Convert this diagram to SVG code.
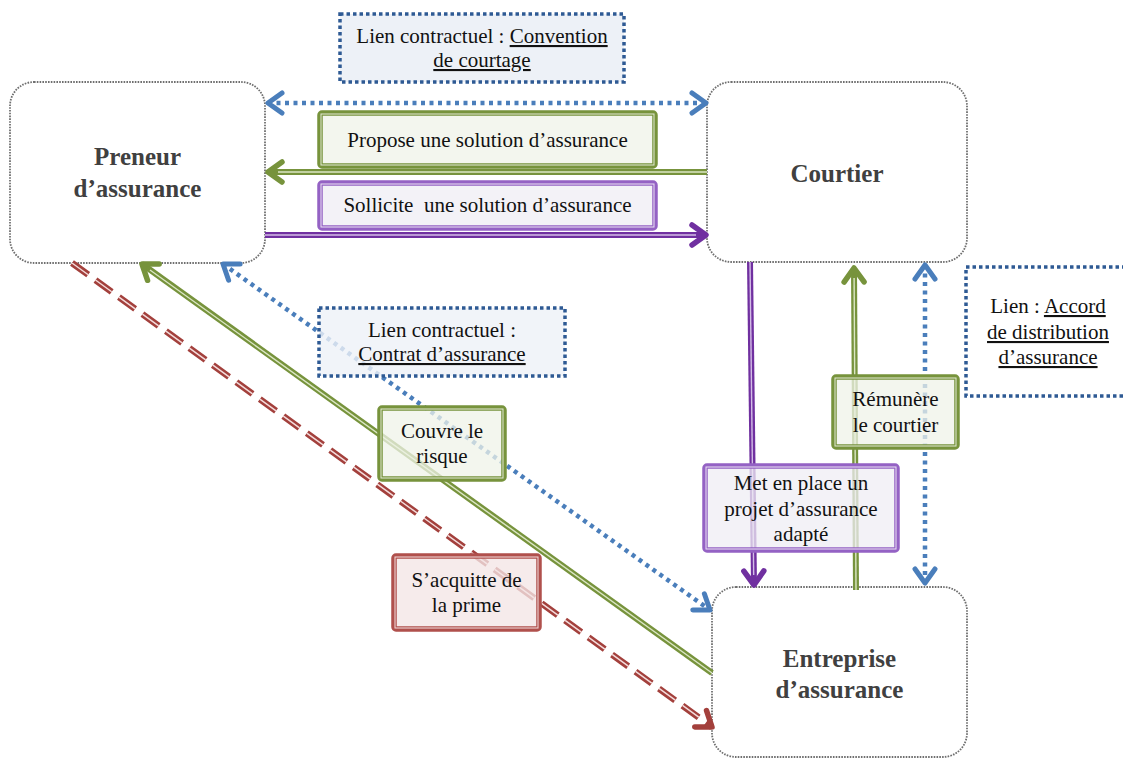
<svg xmlns="http://www.w3.org/2000/svg" width="1123" height="758" viewBox="0 0 1123 758">
<style>
.node{fill:#fff;stroke:#6f6f6f;stroke-width:1.8;stroke-dasharray:1.6 1.2}
.nt{font-family:"Liberation Serif","Times New Roman",serif;font-size:25px;font-weight:bold;fill:#404040;text-anchor:middle}
.lt{font-family:"Liberation Serif","Times New Roman",serif;font-size:21px;fill:#111;text-anchor:middle}
.u{text-decoration:underline}
.bl{fill:#edf1f7;stroke:#2e5a94;stroke-width:3.5;stroke-dasharray:3.5 3}
.gO{fill:#eff3e8;fill-opacity:.75;stroke:#77933c;stroke-width:5.5}
.gI{fill:none;stroke:#e3ead6;stroke-width:1}
.pO{fill:#efedf4;fill-opacity:.75;stroke:#9462c4;stroke-width:5.5}
.pI{fill:none;stroke:#ece3f4;stroke-width:1}
.rO{fill:#f4e5e5;fill-opacity:.78;stroke:#b0504c;stroke-width:5.5}
.rI{fill:none;stroke:#f3dede;stroke-width:1}
.cb{fill:none;stroke:#4a7ebb;stroke-width:4.5;stroke-dasharray:4 4.5}
.cg{fill:none;stroke:#77933c;stroke-width:6}
.cgi{fill:none;stroke:#dbe6c4;stroke-width:1.4}
.cp{fill:none;stroke:#7030a0;stroke-width:6}
.cpi{fill:none;stroke:#d3bde6;stroke-width:1.4}
.cr{fill:none;stroke:#a3403c;stroke-width:6.5;stroke-dasharray:20 9}
.cri{fill:none;stroke:#f4dcdc;stroke-width:1.5;stroke-dasharray:20 9}
</style>
<defs>
<marker id="ab" markerUnits="userSpaceOnUse" viewBox="0 0 22 26" markerWidth="22" markerHeight="26" refX="18" refY="13" orient="auto-start-reverse"><path d="M4,3 L18,13 L4,23" fill="none" stroke="#4a7ebb" stroke-width="5" stroke-linecap="round" stroke-linejoin="round"/></marker>
<marker id="ag" markerUnits="userSpaceOnUse" viewBox="0 0 22 26" markerWidth="22" markerHeight="26" refX="18" refY="13" orient="auto-start-reverse"><path d="M4,3 L18,13 L4,23" fill="none" stroke="#77933c" stroke-width="5.5" stroke-linecap="round" stroke-linejoin="round"/></marker>
<marker id="ap" markerUnits="userSpaceOnUse" viewBox="0 0 22 26" markerWidth="22" markerHeight="26" refX="18" refY="13" orient="auto-start-reverse"><path d="M4,3 L18,13 L4,23" fill="none" stroke="#7030a0" stroke-width="5.5" stroke-linecap="round" stroke-linejoin="round"/></marker>
<marker id="ar" markerUnits="userSpaceOnUse" viewBox="0 0 22 26" markerWidth="22" markerHeight="26" refX="18" refY="13" orient="auto-start-reverse"><path d="M4,3 L18,13 L4,23" fill="none" stroke="#a3403c" stroke-width="5.5" stroke-linecap="round" stroke-linejoin="round"/></marker>
</defs>

<g id="n-preneur"><rect class="node" x="10" y="82" width="255" height="181" rx="24"/><text class="nt" x="137.5" y="165">Preneur</text><text class="nt" x="137.5" y="197">d’assurance</text></g>
<g id="n-courtier"><rect class="node" x="707" y="82" width="260" height="180" rx="24"/><text class="nt" x="837" y="182">Courtier</text></g>
<g id="n-entreprise"><rect class="node" x="712" y="587" width="255" height="170" rx="24"/><text class="nt" x="839.5" y="667">Entreprise</text><text class="nt" x="839.5" y="698">d’assurance</text></g>

<g id="connectors">
<line class="cb" x1="268" y1="103" x2="706" y2="103" marker-start="url(#ab)" marker-end="url(#ab)"/>
<line class="cg" x1="707" y1="172" x2="268" y2="172" marker-end="url(#ag)"/><line class="cgi" x1="707" y1="172" x2="278" y2="172"/>
<line class="cp" x1="265" y1="235" x2="706" y2="235" marker-end="url(#ap)"/><line class="cpi" x1="265" y1="235" x2="696" y2="235"/>
<line class="cb" x1="223" y1="264" x2="710" y2="610" marker-start="url(#ab)" marker-end="url(#ab)"/>
<line class="cg" x1="712" y1="673" x2="142" y2="264" marker-end="url(#ag)"/><line class="cgi" x1="712" y1="673" x2="150" y2="270"/>
<line class="cr" x1="72" y1="263" x2="712" y2="727" marker-end="url(#ar)"/><line class="cri" x1="72" y1="263" x2="704" y2="721"/>
<line class="cp" x1="750" y1="262" x2="754" y2="585" marker-end="url(#ap)"/><line class="cpi" x1="750" y1="262" x2="753.7" y2="575"/>
<line class="cg" x1="856" y1="590" x2="854" y2="268" marker-end="url(#ag)"/><line class="cgi" x1="856" y1="590" x2="854.1" y2="278"/>
<line class="cb" x1="925" y1="265" x2="925" y2="583" marker-start="url(#ab)" marker-end="url(#ab)"/>
</g>

<g id="l-convention"><rect class="bl" x="340" y="14" width="284" height="68"/><text class="lt" x="482" y="43">Lien contractuel : <tspan class="u">Convention</tspan></text><text class="lt" x="482" y="67"><tspan class="u">de courtage</tspan></text></g>
<g id="l-propose"><rect class="gO" x="320" y="113" width="335" height="53" rx="2"/><rect class="gI" x="321" y="114" width="333" height="51"/><text class="lt" x="487.5" y="147">Propose une solution d’assurance</text></g>
<g id="l-sollicite"><rect class="pO" x="320" y="183" width="335" height="45" rx="2"/><rect class="pI" x="321" y="184" width="333" height="43"/><text class="lt" x="487.5" y="212" xml:space="preserve">Sollicite  une solution d’assurance</text></g>
<g id="l-contrat"><rect class="bl" x="319" y="308" width="246" height="68" fill-opacity=".8"/><text class="lt" x="442" y="337">Lien contractuel :</text><text class="lt" x="442" y="361"><tspan class="u">Contrat d’assurance</tspan></text></g>
<g id="l-couvre"><rect class="gO" x="380" y="408" width="124" height="71" rx="2"/><rect class="gI" x="381" y="409" width="122" height="69"/><text class="lt" x="442" y="438">Couvre le</text><text class="lt" x="442" y="463">risque</text></g>
<g id="l-acquitte"><rect class="rO" x="394" y="556" width="145" height="73" rx="2"/><rect class="rI" x="395" y="557" width="143" height="71"/><text class="lt" x="466.5" y="587">S’acquitte de</text><text class="lt" x="466.5" y="612">la prime</text></g>
<g id="l-remunere"><rect class="gO" x="834" y="377" width="123" height="70" rx="2"/><rect class="gI" x="835" y="378" width="121" height="68"/><text class="lt" x="895.5" y="406">Rémunère</text><text class="lt" x="895.5" y="432">le courtier</text></g>
<g id="l-metenplace"><rect class="pO" x="705" y="466" width="192" height="84" rx="2"/><rect class="pI" x="706" y="467" width="190" height="82"/><text class="lt" x="801" y="490">Met en place un</text><text class="lt" x="801" y="516">projet d’assurance</text><text class="lt" x="801" y="541">adapté</text></g>
<g id="l-accord"><rect class="bl" x="966" y="267" width="170" height="129" style="fill:#fff"/><text class="lt" x="1048" y="313">Lien : <tspan class="u">Accord</tspan></text><text class="lt" x="1048" y="339"><tspan class="u">de distribution</tspan></text><text class="lt" x="1048" y="364"><tspan class="u">d’assurance</tspan></text></g>
</svg>
